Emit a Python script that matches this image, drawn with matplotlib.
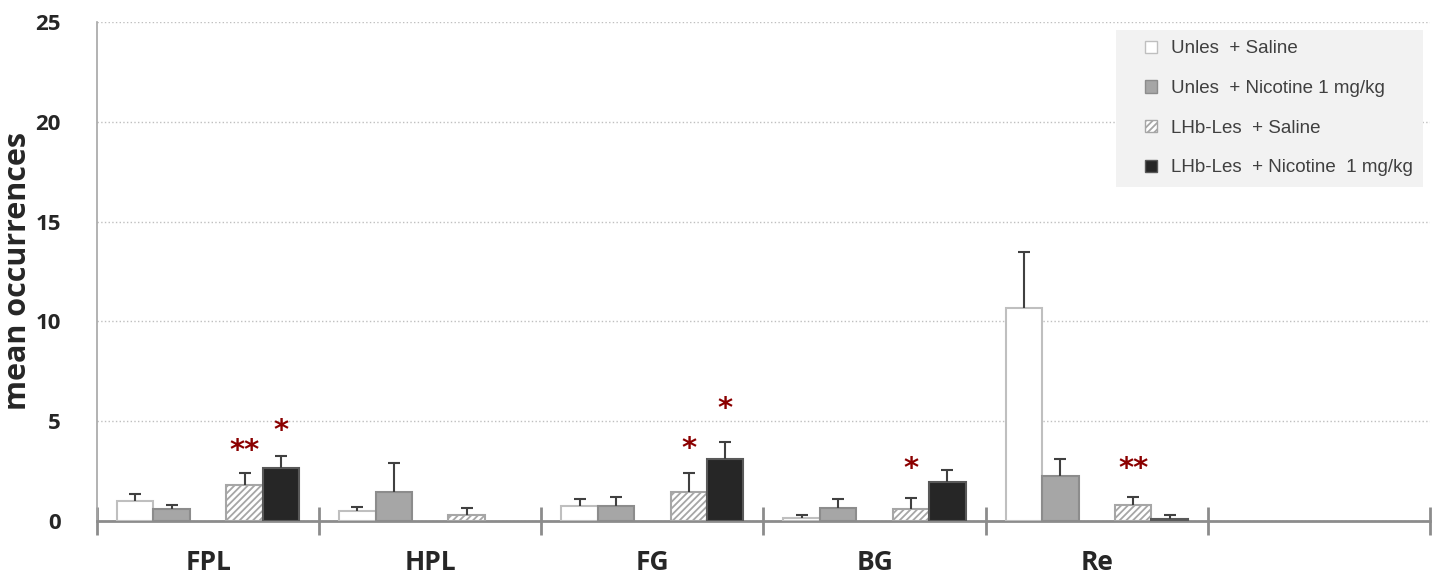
import matplotlib
matplotlib.use("Agg")
import matplotlib.pyplot as plt
from matplotlib.patches import Patch, Rectangle
from matplotlib.legend_handler import HandlerPatch
import numpy as np

# ----------------------------------------------------------------------------------------------------------------------
#  DATA
# ----------------------------------------------------------------------------------------------------------------------
categories = ['FPL', 'HPL', 'FG', 'BG', 'Re', '']
series_names = ['Unles  + Saline',
                'Unles  + Nicotine 1 mg/kg',
                'LHb-Les  + Saline',
                'LHb-Les  + Nicotine  1 mg/kg']

nan = np.nan
unles_saline     = [0.98, 0.49, 0.75, 0.17, 10.69, nan]
unles_nicotine   = [0.59, 1.47, 0.77, 0.67, 2.27, nan]
lhb_saline       = [1.80, 0.29, 1.45, 0.62, 0.79, nan]
lhb_nicotine     = [2.64, nan, 3.12, 1.97, 0.12, nan]

unles_saline_err   = [0.39, 0.20, 0.35, 0.13, 2.79, nan]
unles_nicotine_err = [0.23, 1.42, 0.43, 0.43, 0.82, nan]
lhb_saline_err     = [0.62, 0.38, 0.95, 0.52, 0.43, nan]
lhb_nicotine_err   = [0.63, nan, 0.85, 0.59, 0.18, nan]

# significance marks: (category index, series index, label, height)
stars = [(0, 2, '**', 3.5),
         (0, 3, '*', 4.5),
         (2, 2, '*', 3.6),
         (2, 3, '*', 5.6),
         (3, 2, '*', 2.6),
         (4, 2, '**', 2.6)]

# ----------------------------------------------------------------------------------------------------------------------
#  PLOT
# ----------------------------------------------------------------------------------------------------------------------
values = [unles_saline, unles_nicotine, lhb_saline, lhb_nicotine]
errors = [unles_saline_err, unles_nicotine_err, lhb_saline_err, lhb_nicotine_err]
faces  = ['white', '#a6a6a6', 'white', '#262626']
edges  = ['#bfbfbf', '#8c8c8c', '#a6a6a6', '#595959']
hatches = [None, None, '/////', None]

plt.rcParams['hatch.linewidth'] = 1.3

fig = plt.figure(figsize=(14.35, 5.79), dpi=100)
ax = fig.add_axes([0.0676, 0.1002, 0.9289, 0.8618])

w = 0.164
offsets = [-2 * w, -w, w, 2 * w]
centers = np.arange(len(categories)) + 0.5

for i in range(4):
    x = centers + offsets[i]
    ax.bar(x, values[i], width=w, color=faces[i], edgecolor=edges[i],
           linewidth=1.5, hatch=hatches[i], zorder=3)
    eb = ax.errorbar(x, values[i], yerr=[np.zeros(len(categories)), errors[i]],
                     fmt='none', ecolor='#404040', elinewidth=1.5, capsize=4,
                     capthick=1.5, zorder=4)
    # only keep the upper cap
    eb[1][0].set_visible(False)

for c, s, label, h in stars:
    ax.text(centers[c] + offsets[s], h, label, color='#8b0000', fontsize=21,
            fontweight='bold', ha='center', va='center', zorder=5)

ax.set_xlim(0, len(categories))
ax.set_ylim(0, 25)
ax.set_yticks([0, 5, 10, 15, 20, 25])
ax.yaxis.grid(True, linestyle=':', color='#bfbfbf', linewidth=1)
ax.set_axisbelow(True)

ax.set_xticks(np.arange(len(categories) + 1))
ax.set_xticklabels([])
ax.set_xticks(centers, minor=True)
ax.set_xticklabels(categories, minor=True, fontsize=19, fontweight='bold',
                   family='Open Sans', color='#262626')
ax.tick_params(axis='x', which='major', direction='inout', length=20,
               width=2, color='#8c8c8c')
ax.tick_params(axis='x', which='minor', length=0, pad=20)
ax.tick_params(axis='y', length=0, pad=26)
for lab in ax.get_yticklabels():
    lab.set_fontsize(16)
    lab.set_fontweight('bold')
    lab.set_family('Open Sans')
    lab.set_color('#262626')

ax.set_ylabel('mean occurrences', fontsize=22, fontweight='bold',
              family='Open Sans', color='#262626', labelpad=2)

for side in ['top', 'right']:
    ax.spines[side].set_visible(False)
ax.spines['left'].set_color('#a6a6a6')
ax.spines['left'].set_linewidth(1.2)
ax.spines['bottom'].set_color('#8c8c8c')
ax.spines['bottom'].set_linewidth(2)


# small square legend keys sitting at the right of the handle box
def square_key(legend, orig_handle, xdescent, ydescent, width, height, fontsize):
    s = 0.65 * fontsize
    return Rectangle((width - xdescent - s, height / 2 - ydescent - s / 2), s, s)


handles = [Patch(facecolor=faces[i], edgecolor=edges[i], hatch=hatches[i],
                 linewidth=1) for i in range(4)]
leg = ax.legend(handles, series_names, loc='upper right',
                bbox_to_anchor=(0.9948, 0.984), frameon=True, fancybox=False,
                facecolor='#f2f2f2', edgecolor='none', framealpha=1,
                handlelength=1.6, handleheight=0.7, handletextpad=0.75,
                labelspacing=1.2, borderpad=0.55, borderaxespad=0,
                handler_map={Patch: HandlerPatch(patch_func=square_key)},
                prop={'family': 'Liberation Sans', 'size': 13.5})
for t in leg.get_texts():
    t.set_color('#404040')

fig.savefig('out.png', dpi=100)
